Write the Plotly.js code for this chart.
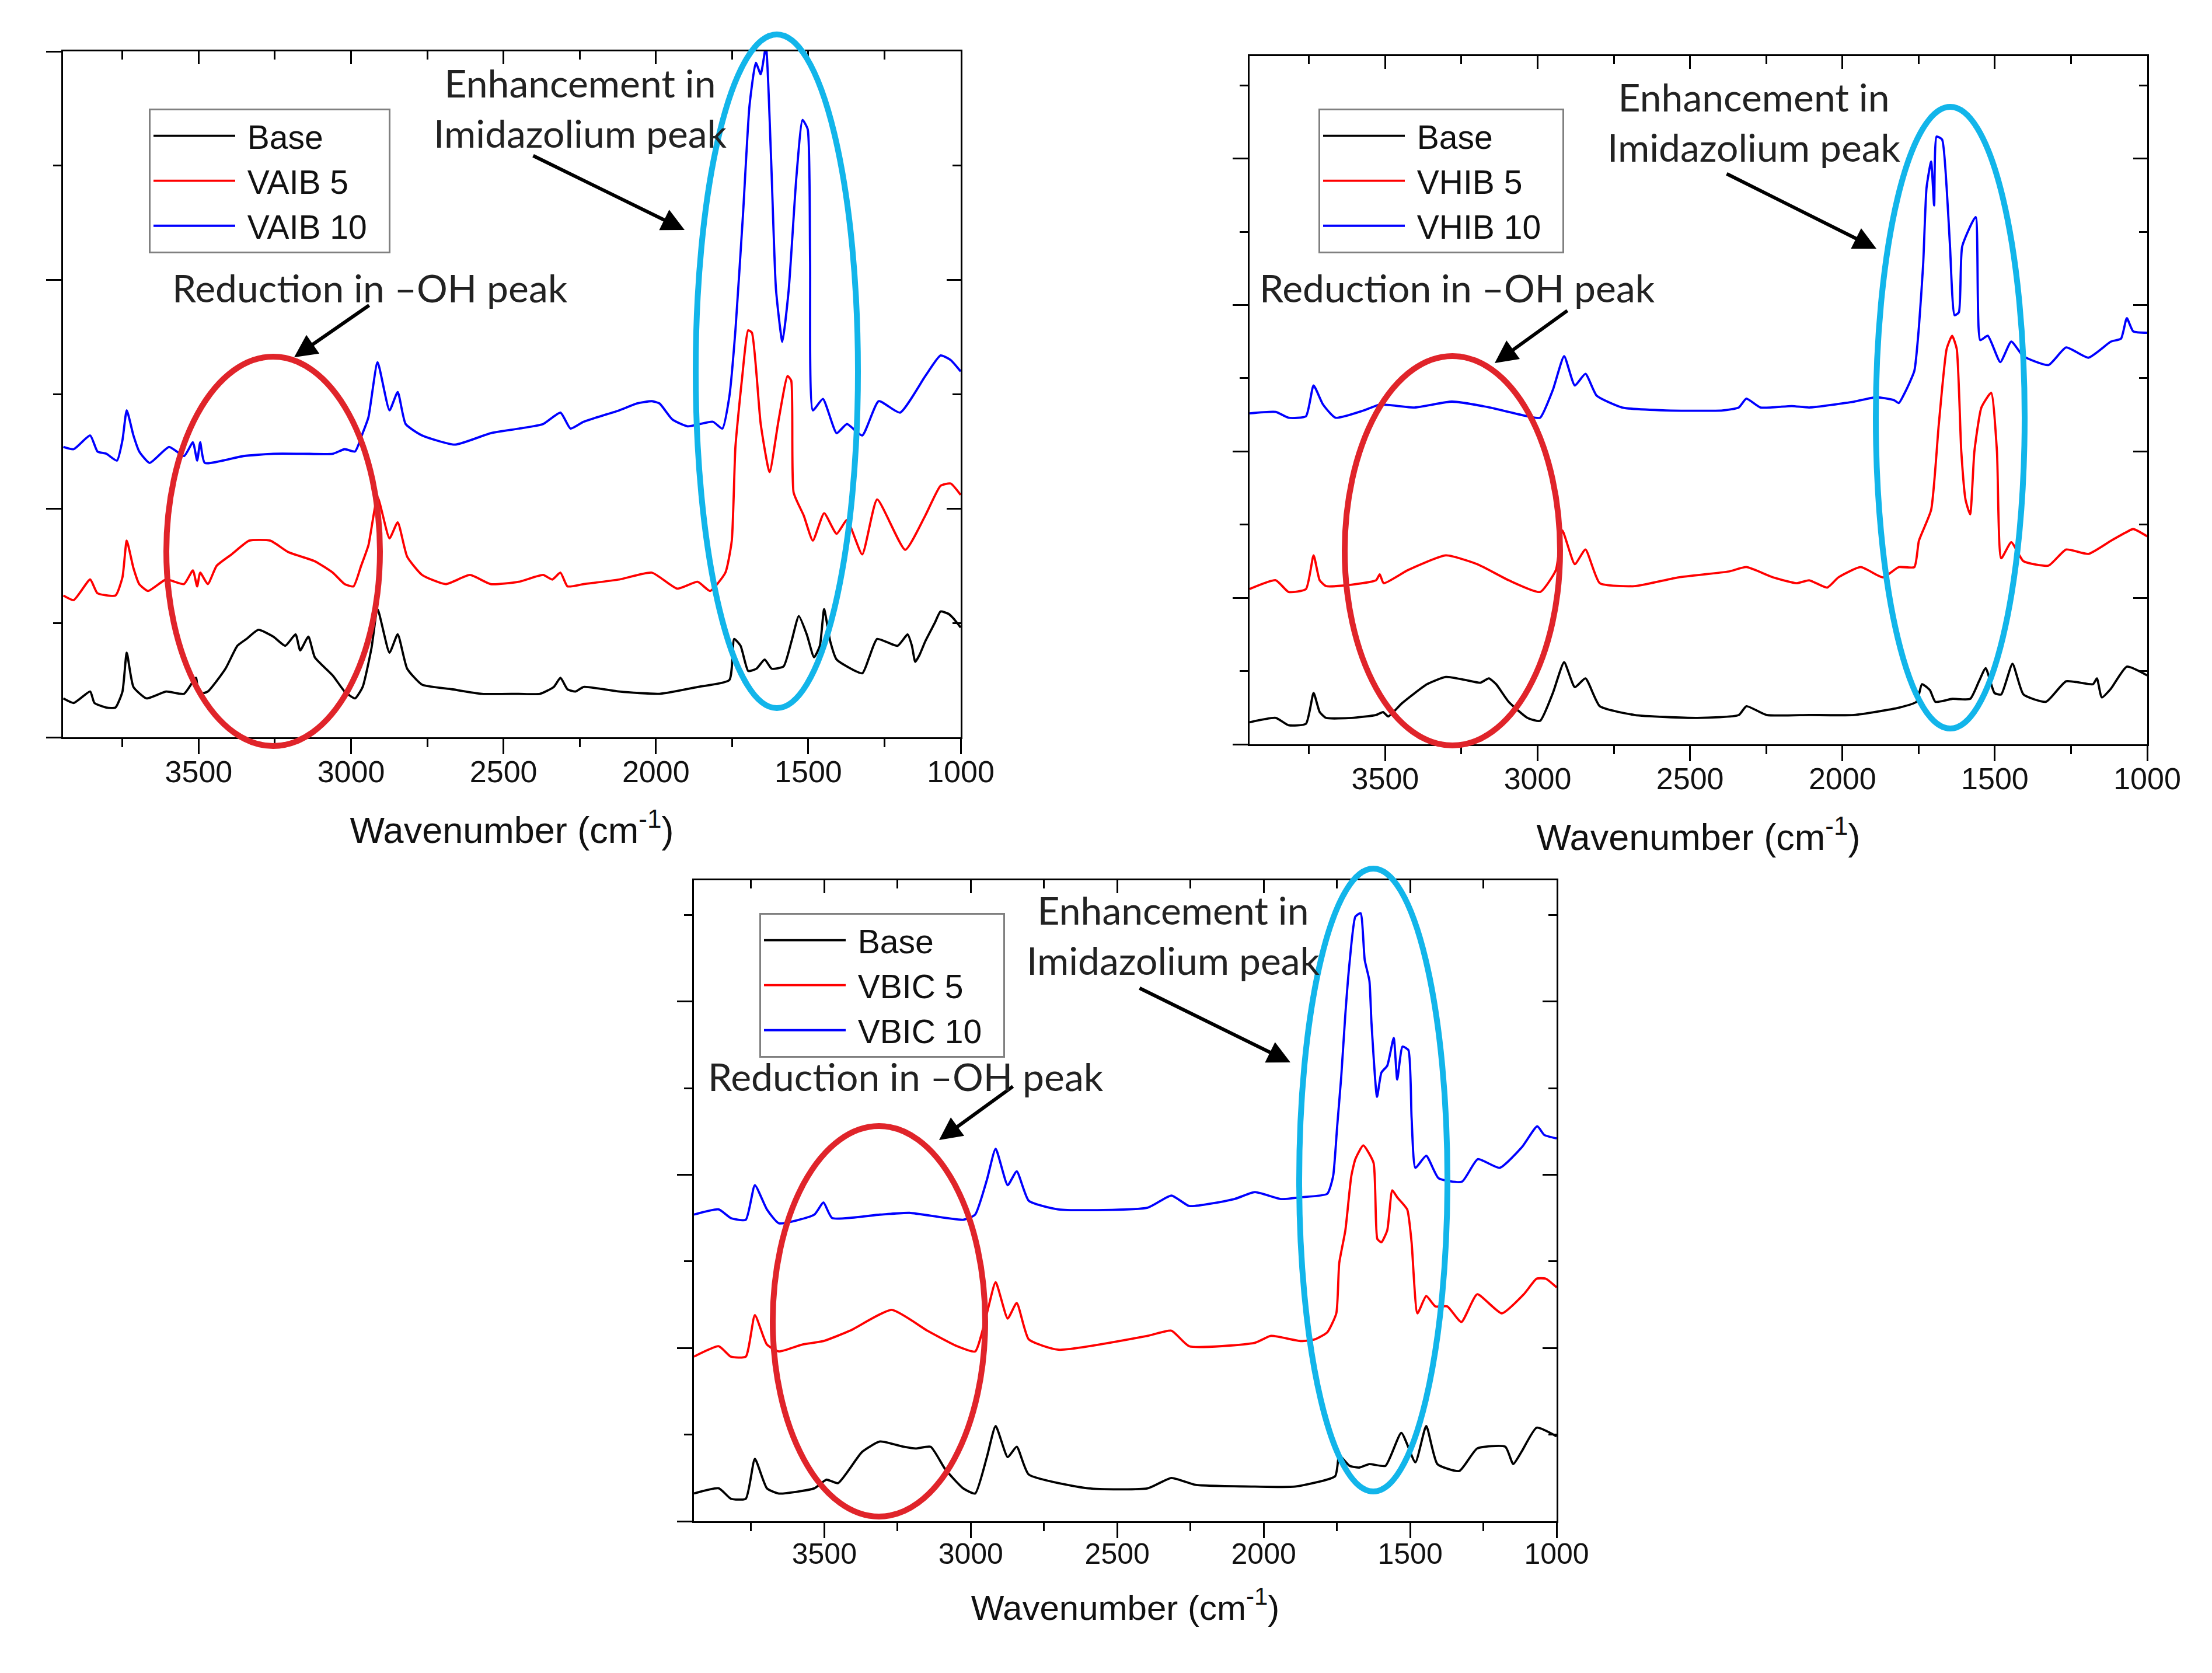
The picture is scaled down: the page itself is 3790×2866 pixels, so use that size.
<!DOCTYPE html>
<html>
<head>
<meta charset="utf-8">
<script src="https://cdn.plot.ly/plotly-3.0.1.min.js"></script>
<style>
  html, body { margin: 0; padding: 0; background: #fff; }
</style>
</head>
<body>
<div id="plot" style="width:3790px;height:2866px;"></div>
<script>
// FTIR spectra, [wavenumber, absorbance offset]
const vaibBase = [[3944,0.17],[3910,0.15],[3856,0.20],[3842,0.15],[3803,0.13],[3773,0.13],[3750,0.20],[3736,0.37],[3714,0.22],[3671,0.17],[3607,0.20],[3548,0.19],[3509,0.26],[3500,0.19],[3470,0.20],[3412,0.30],[3373,0.40],[3343,0.43],[3304,0.47],[3255,0.44],[3216,0.40],[3182,0.45],[3167,0.38],[3140,0.44],[3119,0.35],[3060,0.27],[3021,0.20],[2987,0.17],[2962,0.22],[2933,0.39],[2913,0.56],[2874,0.37],[2847,0.45],[2816,0.30],[2767,0.23],[2669,0.21],[2571,0.19],[2450,0.19],[2380,0.19],[2335,0.22],[2313,0.26],[2290,0.21],[2264,0.20],[2237,0.22],[2120,0.20],[1988,0.19],[1863,0.22],[1759,0.25],[1743,0.43],[1722,0.40],[1697,0.29],[1670,0.30],[1643,0.34],[1620,0.30],[1581,0.31],[1555,0.42],[1531,0.53],[1505,0.45],[1481,0.35],[1462,0.40],[1448,0.56],[1428,0.42],[1407,0.34],[1323,0.28],[1300,0.35],[1274,0.43],[1207,0.40],[1174,0.45],[1160,0.40],[1149,0.33],[1135,0.36],[1116,0.42],[1085,0.50],[1066,0.55],[1040,0.54],[1024,0.52],[1000,0.48]];
const vaib5 = [[3944,0.62],[3910,0.60],[3856,0.69],[3832,0.63],[3773,0.62],[3750,0.70],[3736,0.86],[3714,0.74],[3695,0.67],[3666,0.64],[3607,0.69],[3548,0.67],[3519,0.73],[3505,0.66],[3495,0.72],[3470,0.67],[3441,0.75],[3392,0.80],[3334,0.86],[3265,0.86],[3206,0.81],[3119,0.77],[3060,0.72],[3021,0.67],[2992,0.66],[2967,0.75],[2943,0.84],[2913,1.05],[2874,0.87],[2847,0.94],[2816,0.79],[2767,0.71],[2689,0.67],[2610,0.71],[2542,0.67],[2450,0.68],[2370,0.71],[2340,0.69],[2313,0.72],[2290,0.66],[2237,0.67],[2120,0.69],[2013,0.72],[1930,0.65],[1863,0.68],[1822,0.64],[1772,0.72],[1751,0.86],[1739,1.27],[1718,1.56],[1697,1.78],[1685,1.77],[1656,1.37],[1627,1.16],[1597,1.39],[1568,1.58],[1556,1.56],[1548,1.07],[1515,0.97],[1485,0.86],[1448,0.98],[1407,0.89],[1373,0.95],[1323,0.80],[1274,1.04],[1182,0.82],[1116,0.97],[1066,1.10],[1033,1.11],[1000,1.06]];
const vaib10 = [[3944,1.27],[3910,1.26],[3856,1.32],[3832,1.25],[3803,1.24],[3768,1.21],[3750,1.30],[3736,1.43],[3714,1.32],[3695,1.25],[3661,1.20],[3597,1.27],[3548,1.23],[3519,1.29],[3505,1.21],[3495,1.29],[3480,1.20],[3353,1.23],[3255,1.24],[3158,1.24],[3060,1.24],[3021,1.26],[2987,1.25],[2962,1.33],[2943,1.40],[2913,1.64],[2874,1.43],[2847,1.51],[2821,1.37],[2767,1.32],[2659,1.28],[2542,1.33],[2450,1.35],[2370,1.37],[2313,1.42],[2280,1.35],[2237,1.38],[2120,1.43],[2062,1.46],[2013,1.47],[1988,1.46],[1946,1.39],[1896,1.36],[1813,1.38],[1782,1.35],[1759,1.49],[1739,1.78],[1714,2.29],[1693,2.76],[1672,2.95],[1656,2.90],[1639,3.02],[1622,2.53],[1606,1.96],[1585,1.73],[1564,1.96],[1539,2.45],[1519,2.70],[1502,2.66],[1494,2.08],[1485,1.43],[1452,1.48],[1407,1.33],[1373,1.37],[1323,1.32],[1269,1.47],[1199,1.42],[1116,1.58],[1066,1.67],[1033,1.65],[1000,1.60]];

const vhibBase = [[3945,0.15],[3859,0.18],[3817,0.13],[3760,0.14],[3735,0.35],[3715,0.22],[3694,0.18],[3610,0.18],[3530,0.20],[3507,0.22],[3490,0.19],[3445,0.28],[3363,0.41],[3301,0.46],[3239,0.44],[3188,0.42],[3160,0.45],[3136,0.41],[3095,0.29],[3033,0.18],[2992,0.16],[2950,0.35],[2913,0.56],[2878,0.39],[2843,0.45],[2796,0.26],[2682,0.20],[2476,0.18],[2340,0.20],[2315,0.26],[2249,0.20],[2109,0.20],[1962,0.20],[1815,0.25],[1757,0.29],[1739,0.41],[1713,0.37],[1695,0.29],[1640,0.31],[1581,0.31],[1552,0.43],[1530,0.52],[1501,0.35],[1479,0.34],[1442,0.55],[1406,0.34],[1332,0.29],[1266,0.43],[1178,0.41],[1165,0.45],[1149,0.32],[1119,0.38],[1067,0.53],[1000,0.47]];
const vhib5 = [[3945,1.06],[3859,1.12],[3817,1.04],[3760,1.06],[3735,1.29],[3715,1.12],[3694,1.08],[3610,1.09],[3530,1.12],[3518,1.16],[3505,1.10],[3425,1.19],[3301,1.29],[3198,1.23],[3095,1.12],[2992,1.04],[2940,1.19],[2919,1.46],[2878,1.23],[2843,1.33],[2796,1.10],[2682,1.08],[2538,1.14],[2373,1.18],[2315,1.21],[2228,1.14],[2150,1.10],[2109,1.12],[2050,1.07],[2013,1.14],[1940,1.21],[1867,1.14],[1815,1.21],[1764,1.21],[1749,1.39],[1709,1.60],[1684,2.18],[1658,2.70],[1640,2.79],[1625,2.70],[1610,2.00],[1596,1.67],[1581,1.57],[1567,2.00],[1544,2.30],[1512,2.40],[1493,2.00],[1479,1.27],[1446,1.38],[1406,1.25],[1324,1.22],[1266,1.33],[1193,1.30],[1119,1.39],[1067,1.45],[1046,1.47],[1000,1.42]];
const vhib10 = [[3945,2.26],[3859,2.27],[3817,2.23],[3760,2.24],[3735,2.45],[3704,2.32],[3663,2.23],[3570,2.28],[3518,2.32],[3404,2.30],[3281,2.34],[3157,2.30],[3033,2.24],[2992,2.23],[2950,2.42],[2913,2.65],[2878,2.45],[2843,2.53],[2806,2.38],[2723,2.30],[2579,2.28],[2393,2.28],[2340,2.30],[2315,2.36],[2269,2.30],[2166,2.31],[2109,2.30],[1962,2.34],[1889,2.37],[1831,2.35],[1815,2.33],[1793,2.41],[1764,2.55],[1749,2.85],[1735,3.28],[1724,3.80],[1709,3.98],[1699,3.68],[1691,4.15],[1673,4.13],[1658,3.80],[1647,3.40],[1632,2.93],[1618,2.95],[1607,3.40],[1563,3.60],[1548,2.76],[1523,2.79],[1482,2.61],[1446,2.75],[1406,2.65],[1324,2.59],[1266,2.71],[1193,2.64],[1119,2.75],[1086,2.77],[1067,2.91],[1046,2.82],[1000,2.81]];

const vbicBase = [[3945,0.16],[3860,0.19],[3819,0.13],[3768,0.13],[3737,0.36],[3696,0.19],[3655,0.16],[3534,0.19],[3493,0.24],[3453,0.22],[3371,0.40],[3310,0.46],[3229,0.43],[3188,0.42],[3137,0.43],[3087,0.30],[3026,0.19],[2985,0.16],[2945,0.37],[2915,0.55],[2874,0.37],[2843,0.43],[2802,0.27],[2599,0.19],[2396,0.19],[2315,0.25],[2233,0.21],[2030,0.20],[1893,0.20],[1756,0.26],[1742,0.38],[1707,0.32],[1673,0.31],[1639,0.33],[1584,0.32],[1530,0.51],[1482,0.34],[1445,0.55],[1407,0.33],[1332,0.29],[1271,0.42],[1175,0.43],[1148,0.33],[1120,0.40],[1068,0.54],[1000,0.49]];
const vbic5 = [[3945,0.95],[3860,1.01],[3819,0.95],[3768,0.95],[3737,1.19],[3696,1.02],[3655,0.98],[3575,1.02],[3503,1.04],[3412,1.10],[3270,1.22],[3148,1.10],[3046,1.01],[2985,0.98],[2945,1.20],[2915,1.38],[2874,1.17],[2843,1.26],[2802,1.05],[2701,0.99],[2396,1.07],[2315,1.10],[2254,1.01],[2030,1.03],[1975,1.07],[1873,1.04],[1825,1.05],[1783,1.09],[1752,1.20],[1742,1.49],[1721,1.68],[1701,1.99],[1687,2.09],[1660,2.17],[1625,2.07],[1612,1.63],[1598,1.61],[1578,1.68],[1561,1.91],[1544,1.87],[1510,1.80],[1495,1.61],[1475,1.20],[1445,1.30],[1414,1.24],[1373,1.24],[1325,1.15],[1271,1.31],[1187,1.20],[1112,1.31],[1068,1.40],[1037,1.40],[1000,1.35]];
const vbic10 = [[3945,1.77],[3860,1.80],[3819,1.75],[3768,1.74],[3737,1.94],[3696,1.80],[3655,1.72],[3534,1.77],[3503,1.84],[3473,1.75],[3310,1.77],[3209,1.78],[3026,1.74],[2985,1.77],[2945,1.97],[2915,2.15],[2874,1.94],[2843,2.02],[2802,1.85],[2701,1.80],[2396,1.81],[2315,1.88],[2254,1.82],[2100,1.86],[2030,1.90],[1941,1.86],[1873,1.87],[1783,1.89],[1763,1.99],[1749,2.28],[1735,2.57],[1721,2.93],[1707,3.22],[1687,3.49],[1669,3.51],[1655,3.24],[1639,3.12],[1632,2.88],[1613,2.45],[1598,2.59],[1578,2.63],[1556,2.79],[1544,2.55],[1526,2.74],[1506,2.72],[1495,2.33],[1482,2.04],[1445,2.11],[1403,1.98],[1323,1.96],[1269,2.09],[1194,2.04],[1118,2.16],[1066,2.28],[1042,2.23],[1000,2.21]];

const seriesNames = [
  ['Base', 'VAIB 5', 'VAIB 10'],
  ['Base', 'VHIB 5', 'VHIB 10'],
  ['Base', 'VBIC 5', 'VBIC 10']
];
const panelSeries = [
  [vaibBase, vaib5, vaib10],
  [vhibBase, vhib5, vhib10],
  [vbicBase, vbic5, vbic10]
];
const xRange = [3945, 1000];
const yTops = [3, 4.7, 3.7];

// page geometry (pixels of the 3790 x 2866 page)
const W = 3790, H = 2866;
const px = v => v / W;
const py = v => 1 - v / H;

const colors = ['#000000', '#ff0000', '#0000ff'];
const boxes = [
  { x: [108, 1646], y: [88, 1263], legend: [255, 186], tick: 52, lift: -14, standoff: 50, title: 63 },
  { x: [2141, 3679], y: [96, 1275], legend: [2259, 186], tick: 52, lift: -14, standoff: 50, title: 63 },
  { x: [1189, 2667], y: [1508, 2606], legend: [1301, 1564], tick: 50, lift: -16, standoff: 44, title: 60 }
];

const arial = 'Liberation Sans, Arial, sans-serif';
const noteFont = { family: 'Lato, Open Sans, sans-serif', size: 66, color: '#222' };

let traces = [];
let layout = {
  width: W, height: H,
  margin: { t: 0, b: 0, l: 0, r: 0 },
  paper_bgcolor: '#fff',
  plot_bgcolor: 'rgba(0,0,0,0)',
  showlegend: true,
  annotations: [],
  shapes: []
};

boxes.forEach((b, i) => {
  const n = i + 1;
  const xId = n === 1 ? 'x' : 'x' + n;
  const yId = n === 1 ? 'y' : 'y' + n;
  const xKey = n === 1 ? 'xaxis' : 'xaxis' + n;
  const yKey = n === 1 ? 'yaxis' : 'yaxis' + n;
  const legKey = n === 1 ? 'legend' : 'legend' + n;

  panelSeries[i].forEach((s, k) => {
    traces.push({
      x: s.map(p => p[0]),
      y: s.map(p => p[1]),
      name: '\u00a0' + seriesNames[i][k] + '\u00a0\u00a0',
      type: 'scatter',
      mode: 'lines',
      xaxis: xId, yaxis: yId,
      legend: legKey,
      line: { color: colors[k], width: 3.8, shape: 'spline', smoothing: 0.5 },
      hoverinfo: 'skip'
    });
  });
  // empty trace so the mirrored frame axes get drawn
  traces.push({
    x: [], y: [], type: 'scatter', mode: 'lines',
    xaxis: 'x' + (n + 3), yaxis: 'y' + (n + 3),
    showlegend: false, hoverinfo: 'skip'
  });

  const common = {
    showgrid: false, zeroline: false, fixedrange: true,
    tickwidth: 3, tickcolor: '#000'
  };

  layout[xKey] = {
    ...common,
    domain: [px(b.x[0]), px(b.x[1])],
    anchor: yId,
    range: xRange,
    showline: true, linecolor: '#000', linewidth: 3, mirror: true,
    ticks: 'outside', ticklen: 26, tick0: 1000, dtick: 500,
    minor: { tick0: 1000, dtick: 250, ticks: 'outside', ticklen: 14, tickwidth: 3, tickcolor: '#000', showgrid: false },
    tickfont: { family: arial, size: b.tick, color: '#111' },
    ticklabelstandoff: b.lift,
    title: {
      text: 'Wavenumber (cm<sup>-1</sup>)',
      font: { family: arial, size: b.title, color: '#111' },
      standoff: b.standoff
    }
  };
  layout[yKey] = {
    ...common,
    domain: [py(b.y[1]), py(b.y[0])],
    anchor: xId,
    range: [0, yTops[i]],
    showline: true, linecolor: '#000', linewidth: 3, mirror: true,
    ticks: 'outside', ticklen: 26, tick0: 0, dtick: 1,
    minor: { tick0: 0, dtick: 0.5, ticks: 'outside', ticklen: 14, tickwidth: 3, tickcolor: '#000', showgrid: false },
    showticklabels: false
  };
  // inward ticks on the top and right frame
  layout['xaxis' + (n + 3)] = {
    ...common,
    overlaying: xId, anchor: yId, side: 'top',
    range: xRange, showline: false, showticklabels: false,
    ticks: 'inside', ticklen: 22, tick0: 1000, dtick: 500,
    minor: { tick0: 1000, dtick: 250, ticks: 'inside', ticklen: 14, tickwidth: 3, tickcolor: '#000', showgrid: false }
  };
  layout['yaxis' + (n + 3)] = {
    ...common,
    overlaying: yId, anchor: xId, side: 'right',
    range: [0, yTops[i]], showline: false, showticklabels: false,
    ticks: 'inside', ticklen: 24, tick0: 0, dtick: 1,
    minor: { tick0: 0, dtick: 0.5, ticks: 'inside', ticklen: 14, tickwidth: 3, tickcolor: '#000', showgrid: false }
  };

  layout[legKey] = {
    x: px(b.legend[0]), y: py(b.legend[1]),
    xanchor: 'left', yanchor: 'top',
    bgcolor: '#fff', bordercolor: '#808080', borderwidth: 3,
    font: { family: arial, size: 57, color: '#111' },
    itemwidth: 140, tracegroupgap: 0
  };
});

// callouts: ellipses, arrows and notes (page pixels)
const redRings = [[285, 611, 651, 1278], [2304, 610, 2673, 1277], [1324, 1929, 1688, 2598]];
const blueRings = [[1192, 59, 1470, 1213], [3214, 183, 3469, 1248], [2226, 1488, 2480, 2555]];
redRings.forEach(r => layout.shapes.push({
  type: 'circle', xref: 'paper', yref: 'paper',
  x0: px(r[0]), x1: px(r[2]), y0: py(r[3]), y1: py(r[1]),
  line: { color: '#e0242a', width: 10 }
}));
blueRings.forEach(r => layout.shapes.push({
  type: 'circle', xref: 'paper', yref: 'paper',
  x0: px(r[0]), x1: px(r[2]), y0: py(r[3]), y1: py(r[1]),
  line: { color: '#12b5ea', width: 10 }
}));

const arrows = [
  [634, 522, 504, 612], [912, 266, 1173, 394],
  [2687, 531, 2561, 622], [2957, 297, 3215, 426],
  [1737, 1860, 1609, 1953], [1951, 1692, 2211, 1820]
];
arrows.forEach(a => layout.annotations.push({
  xref: 'paper', yref: 'paper',
  x: px(a[2]), y: py(a[3]),
  ax: a[0] - a[2], ay: a[1] - a[3],
  text: '', showarrow: true,
  arrowhead: 2, arrowsize: 1.3, arrowwidth: 6, arrowcolor: '#000', standoff: 0
}));

const notes = [
  [995, 184, 'Enhancement in<br>Imidazolium peak'],
  [634, 493, 'Reduction in \u2013OH peak'],
  [3005, 209, 'Enhancement in<br>Imidazolium peak'],
  [2497, 493, 'Reduction in \u2013OH peak'],
  [2010, 1601, 'Enhancement in<br>Imidazolium peak'],
  [1552, 1843, 'Reduction in \u2013OH peak']
];
notes.forEach(t => layout.annotations.push({
  xref: 'paper', yref: 'paper',
  x: px(t[0]), y: py(t[1]),
  xanchor: 'center', yanchor: 'middle', align: 'center',
  text: t[2], showarrow: false, font: noteFont
}));

Plotly.newPlot('plot', traces, layout, { displayModeBar: false, staticPlot: true });
</script>
</body>
</html>
